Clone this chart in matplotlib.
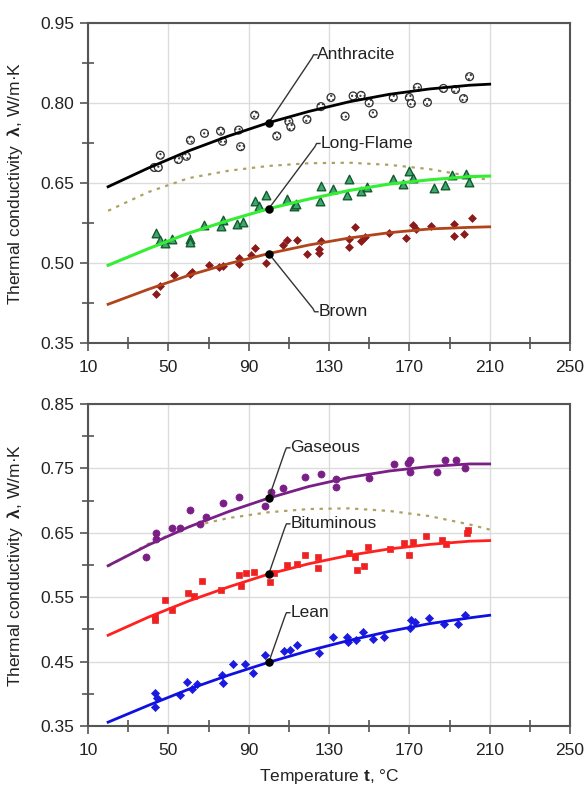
import matplotlib
matplotlib.use("Agg")
import matplotlib.pyplot as plt
from matplotlib.ticker import FormatStrFormatter

plt.rcParams['font.family'] = ['Liberation Sans', 'DejaVu Sans']
plt.rcParams['mathtext.fontset'] = 'custom'
plt.rcParams['mathtext.rm'] = 'Liberation Sans'
plt.rcParams['mathtext.bf'] = 'Liberation Sans:bold'

# ---------------- data ----------------
fit_x = [20, 40, 60, 80, 100, 120, 140, 160, 180, 200, 210]

anth_fit = [0.643, 0.678, 0.710, 0.738, 0.763, 0.784, 0.802, 0.816, 0.826, 0.833, 0.835]
long_fit = [0.496, 0.527, 0.556, 0.580, 0.602, 0.620, 0.636, 0.648, 0.656, 0.662, 0.663]
brown_fit = [0.423, 0.451, 0.477, 0.499, 0.518, 0.534, 0.547, 0.557, 0.564, 0.567, 0.568]
gas_fit = [0.599, 0.631, 0.659, 0.683, 0.704, 0.722, 0.736, 0.746, 0.753, 0.757, 0.757]
bit_fit = [0.491, 0.519, 0.544, 0.566, 0.586, 0.602, 0.615, 0.625, 0.632, 0.637, 0.638]
lean_fit = [0.356, 0.382, 0.407, 0.429, 0.449, 0.467, 0.483, 0.497, 0.509, 0.518, 0.522]
dotted_fit = [0.598, 0.633, 0.659, 0.673, 0.682, 0.687, 0.688, 0.684, 0.676, 0.663, 0.655]

anth_x = [43, 45, 46, 55, 59, 61, 68, 76, 77, 85, 86, 93, 104, 110, 111, 119, 126, 131,
          138, 142, 146, 150, 152, 162, 170, 171, 174, 179, 187, 193, 197, 200]
anth_y = [0.679, 0.679, 0.702, 0.694, 0.700, 0.730, 0.743, 0.747, 0.728, 0.749, 0.718, 0.777,
          0.738, 0.765, 0.755, 0.769, 0.793, 0.810, 0.775, 0.813, 0.814, 0.800, 0.780, 0.810,
          0.810, 0.799, 0.829, 0.801, 0.827, 0.825, 0.808, 0.849]

long_x = [44, 46, 48.5, 52, 61, 61, 68, 76, 77, 84, 87, 93, 95, 98.5, 109, 112.5, 113.5,
          125.5, 126, 132, 139, 140, 146, 149, 162, 167, 170, 172, 182.5, 188, 191, 198, 199.5]
long_y = [0.556, 0.543, 0.538, 0.546, 0.546, 0.540, 0.571, 0.569, 0.580, 0.573, 0.577, 0.617,
          0.607, 0.627, 0.621, 0.607, 0.610, 0.617, 0.644, 0.639, 0.627, 0.657, 0.635, 0.642,
          0.657, 0.648, 0.673, 0.659, 0.640, 0.646, 0.665, 0.667, 0.652]

brown_x = [44, 46, 53, 61, 62, 70, 75, 77, 85, 85, 91, 93, 98.5, 107, 109, 114, 119, 125,
           125, 126, 140, 140, 143, 146, 148, 160, 168.5, 172, 173.5, 181, 192, 192, 197, 201]
brown_y = [0.443, 0.458, 0.477, 0.479, 0.484, 0.496, 0.493, 0.494, 0.509, 0.498, 0.516, 0.529,
           0.501, 0.534, 0.544, 0.543, 0.517, 0.527, 0.519, 0.542, 0.531, 0.546, 0.568, 0.542,
           0.549, 0.557, 0.548, 0.571, 0.563, 0.569, 0.573, 0.551, 0.554, 0.584]

gas_x = [39, 44, 44, 52, 56, 61, 66, 68.5, 77, 85, 98, 101, 107, 118, 126, 133.5, 133.5,
         150, 162.5, 169.5, 170.5, 170.5, 184, 188, 193, 197.5]
gas_y = [0.613, 0.650, 0.641, 0.658, 0.657, 0.686, 0.663, 0.674, 0.696, 0.706, 0.692, 0.714,
         0.719, 0.737, 0.741, 0.733, 0.721, 0.735, 0.757, 0.758, 0.763, 0.744, 0.745, 0.763,
         0.763, 0.750]

bit_x = [43.5, 43.5, 48.5, 52, 60, 63, 67, 76, 85, 86, 88.5, 92.5, 100.5, 102.5, 109, 114,
         118, 124.5, 124.5, 140, 143, 144, 147.5, 149.5, 160.5, 167.5, 170, 172, 178.5, 186.5,
         188.5, 198.5, 199]
bit_y = [0.520, 0.514, 0.546, 0.530, 0.557, 0.552, 0.575, 0.562, 0.584, 0.568, 0.588, 0.589,
         0.573, 0.588, 0.600, 0.601, 0.616, 0.612, 0.596, 0.619, 0.613, 0.592, 0.598, 0.628,
         0.625, 0.635, 0.616, 0.636, 0.645, 0.639, 0.633, 0.649, 0.654]

lean_x = [43.5, 43.5, 44.5, 56, 59.5, 62, 64.5, 76.5, 77, 82, 88, 92, 98, 107.5, 110.5, 114,
          125, 132, 139, 139.5, 143.5, 147, 152, 157.5, 170.5, 171, 173, 180, 187.5, 194, 197.5]
lean_y = [0.401, 0.380, 0.393, 0.398, 0.419, 0.408, 0.415, 0.430, 0.417, 0.446, 0.446, 0.433,
          0.461, 0.467, 0.468, 0.476, 0.464, 0.488, 0.488, 0.481, 0.484, 0.496, 0.485, 0.488,
          0.502, 0.514, 0.512, 0.517, 0.509, 0.509, 0.522]

# label anchors: (name, corner x, label y)
top_labels = [("Anthracite", 121.5, 0.890), ("Long-Flame", 123.0, 0.724), ("Brown", 122.0, 0.409)]
bot_labels = [("Gaseous", 108.0, 0.782), ("Bituminous", 108.0, 0.664), ("Lean", 108.0, 0.526)]

x_ticks = [10, 50, 90, 130, 170, 210, 250]
x_minor = [30, 70, 110, 150, 190, 230]
top_yticks = [0.35, 0.50, 0.65, 0.80, 0.95]
top_yminor = [0.425, 0.575, 0.725, 0.875]
bot_yticks = [0.35, 0.45, 0.55, 0.65, 0.75, 0.85]
bot_yminor = [0.40, 0.50, 0.60, 0.70, 0.80]

# ---------------- figure ----------------
fig = plt.figure(figsize=(5.86, 7.89), dpi=100)
ax1 = fig.add_axes([0.1502, 0.5649, 0.8225, 0.4063])
ax2 = fig.add_axes([0.1502, 0.0798, 0.8225, 0.4081])

FS = 12.5
SPINE = '#555555'


def style_axes(ax, yticks, yminor):
    ax.set_xlim(10, 250)
    ax.set_ylim(yticks[0], yticks[-1])
    ax.set_xticks(x_ticks)
    ax.set_xticks(x_minor, minor=True)
    ax.set_yticks(yticks)
    ax.set_yticks(yminor, minor=True)
    ax.yaxis.set_major_formatter(FormatStrFormatter('%.2f'))
    ax.grid(True, which='major', color='#dcdcdc', lw=1.0, zorder=0)
    ax.set_axisbelow(True)
    for s in ax.spines.values():
        s.set_color(SPINE)
        s.set_linewidth(1.5)
    ax.tick_params(which='major', direction='out', length=6, width=1.2, color=SPINE,
                   labelsize=FS, labelcolor='#222222', top=False, right=False)
    ax.tick_params(axis='x', which='major', pad=6)
    ax.tick_params(axis='y', which='major', pad=4)
    ax.tick_params(which='minor', direction='inout', length=9, width=1.2, color=SPINE,
                   top=False, right=False)
    ax.set_ylabel(r"Thermal conductivity  $\mathbf{λ}$, W/m·K", fontsize=FS, color='#222222')
    ax.yaxis.set_label_coords(-0.131, 0.5)


def leader(ax, x0, y0, xc, yl, up=True):
    d = -0.006 if up else 0.006
    ax.plot([x0, xc, xc + 0.8, xc + 2.5], [y0, yl + d, yl, yl], color='#333333', lw=1.0,
            zorder=6, solid_joinstyle='round')


style_axes(ax1, top_yticks, top_yminor)
style_axes(ax2, bot_yticks, bot_yminor)

# ---- top panel ----
ax1.plot(fit_x, dotted_fit, color='#ada262', lw=1.6, ls=(0, (1.5, 2.5)), zorder=2)
ax1.scatter(anth_x, anth_y, s=32, marker='o', facecolor='white', edgecolor='#333333',
            linewidth=0.9, hatch='....', zorder=3)
ax1.scatter(long_x, long_y, s=38, marker='^', facecolor='#3aa870', edgecolor='#145a2a',
            linewidth=1.0, zorder=3)
ax1.scatter(brown_x, brown_y, s=16, marker='D', facecolor='#8b1a1a', edgecolor='#8b1a1a',
            linewidth=0.5, zorder=3)
ax1.plot(fit_x, anth_fit, color='black', lw=2.0, zorder=4)
ax1.plot(fit_x, long_fit, color='#33ee33', lw=2.2, zorder=4)
ax1.plot(fit_x, brown_fit, color='#b0451c', lw=2.0, zorder=4)

top_fits = [anth_fit, long_fit, brown_fit]
for (name, xc, yl), f in zip(top_labels, top_fits):
    y0 = f[fit_x.index(100)]
    leader(ax1, 100, y0, xc, yl, up=(yl > y0))
    ax1.text(xc + 2.7, yl, name, fontsize=FS, color='#222222', ha='left', va='center',
             zorder=7)
    ax1.scatter([100], [y0], s=26, color='black', zorder=8)

# ---- bottom panel ----
ax2.plot(fit_x, dotted_fit, color='#ada262', lw=1.6, ls=(0, (1.5, 2.5)), zorder=2)
ax2.scatter(gas_x, gas_y, s=26, marker='o', facecolor='#7a1f86', edgecolor='#7a1f86',
            linewidth=0.5, zorder=3)
ax2.scatter(bit_x, bit_y, s=20, marker='s', facecolor='#ee2222', edgecolor='#ee2222',
            linewidth=0.5, zorder=3)
ax2.scatter(lean_x, lean_y, s=17, marker='D', facecolor='#1a1ae0', edgecolor='#1a1ae0',
            linewidth=0.5, zorder=3)
ax2.plot(fit_x, gas_fit, color='#7a1f86', lw=2.0, zorder=4)
ax2.plot(fit_x, bit_fit, color='#ff2020', lw=2.0, zorder=4)
ax2.plot(fit_x, lean_fit, color='#1010e0', lw=2.0, zorder=4)

bot_fits = [gas_fit, bit_fit, lean_fit]
for (name, xc, yl), f in zip(bot_labels, bot_fits):
    y0 = f[fit_x.index(100)]
    leader(ax2, 100, y0, xc, yl, up=True)
    ax2.text(xc + 2.7, yl, name, fontsize=FS, color='#222222', ha='left', va='center',
             zorder=7)
    ax2.scatter([100], [y0], s=26, color='black', zorder=8)

ax2.set_xlabel(r"Temperature $\mathbf{t}$, °C", fontsize=FS, color='#222222')
ax2.xaxis.set_label_coords(0.5, -0.158)
ax2.xaxis.label.set_va('center')

fig.savefig("out.png", dpi=100)
